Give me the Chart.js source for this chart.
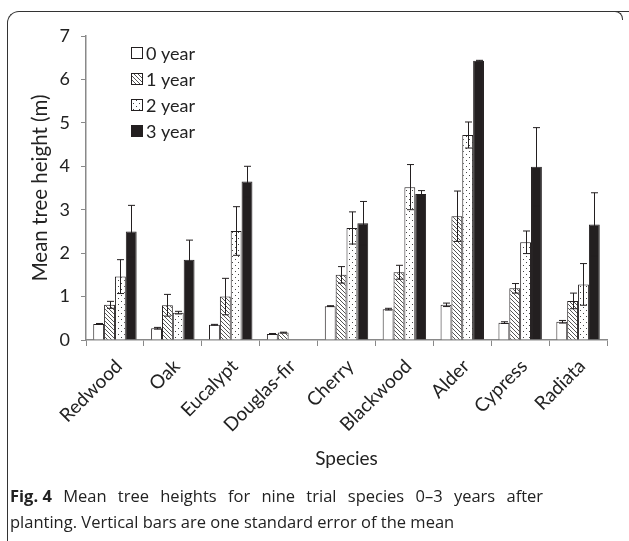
<!DOCTYPE html>
<html>
<head>
<meta charset="utf-8">
<script src="https://cdn.jsdelivr.net/npm/chart.js@4.4.1/dist/chart.umd.min.js"></script>
<style>
  html, body { margin: 0; padding: 0; background: #fff; }
  #wrap { position: relative; width: 629px; height: 541px; overflow: hidden; }
  #chart { position: absolute; left: 0; top: 0; }
  .frame { position: absolute; left: 7px; top: 11px; width: 640px; height: 540px;
    border-top: 1.5px solid #333; border-left: 1.5px solid #333; border-top-left-radius: 12px; }
  .frame-r { position: absolute; left: 612px; top: 11px; width: 10px; height: 8px;
    border-top: 1.5px solid #333; border-right: 1.5px solid #333; border-top-right-radius: 8px; }
  .caption { position: absolute; left: 10px; top: 483px; font-family: 'Open Sans', sans-serif;
    font-size: 16.5px; line-height: 26px; color: #222; }
  .caption .l1 { word-spacing: 7px; }
  .caption b { word-spacing: 0; }
</style>
</head>
<body>
<div id="wrap">
  <canvas id="chart" width="629" height="480"></canvas>
  <div class="frame"></div>
  <div class="frame-r"></div>
  <div class="caption"><span class="l1"><b>Fig. 4</b> Mean tree heights for nine trial species 0–3 years after</span><br>planting. Vertical bars are one standard error of the mean</div>
</div>
<script>
// ===== DATA =====
const species = ['Redwood', 'Oak', 'Eucalypt', 'Douglas-fir', 'Cherry', 'Blackwood', 'Alder', 'Cypress', 'Radiata'];
const seriesLabels = ['0 year', '1 year', '2 year', '3 year'];

const year0 = [0.37, 0.27, 0.35, 0.14, 0.78, 0.71, 0.81, 0.40, 0.42];
const year1 = [0.81, 0.80, 1.00, 0.17, 1.50, 1.56, 2.85, 1.19, 0.90];
const year2 = [1.46, 0.63, 2.51, null, 2.58, 3.52, 4.72, 2.25, 1.28];
const year3 = [2.50, 1.85, 3.65, null, 2.69, 3.36, 6.43, 3.99, 2.66];

const err0 = [0.01, 0.02, 0.01, 0.01, 0.01, 0.02, 0.04, 0.02, 0.03];
const err1 = [0.08, 0.25, 0.42, 0.01, 0.19, 0.16, 0.58, 0.11, 0.18];
const err2 = [0.39, 0.03, 0.56, null, 0.37, 0.52, 0.30, 0.26, 0.48];
const err3 = [0.60, 0.45, 0.35, null, 0.50, 0.08, 0.01, 0.90, 0.73];

const yTicks = [0, 1, 2, 3, 4, 5, 6, 7];

// ===== PATTERNS =====
const ink = '#231f20';

function hatchPattern() {
  const c = document.createElement('canvas');
  c.width = 4; c.height = 4;
  const g = c.getContext('2d');
  g.fillStyle = '#fff';
  g.fillRect(0, 0, 4, 4);
  g.strokeStyle = '#555';
  g.lineWidth = 1;
  g.beginPath();
  g.moveTo(-1, -1); g.lineTo(5, 5);
  g.moveTo(-1, 3); g.lineTo(1, 5);
  g.moveTo(3, -1); g.lineTo(5, 1);
  g.stroke();
  return c.getContext('2d').createPattern(c, 'repeat');
}

function dotPattern() {
  const c = document.createElement('canvas');
  c.width = 6; c.height = 6;
  const g = c.getContext('2d');
  g.fillStyle = '#fff';
  g.fillRect(0, 0, 6, 6);
  g.fillStyle = '#444';
  g.fillRect(1, 1, 1, 1);
  g.fillRect(4, 4, 1, 1);
  return c.getContext('2d').createPattern(c, 'repeat');
}

const fills = ['#ffffff', hatchPattern(), dotPattern(), ink];
const errors = [err0, err1, err2, err3];

// ===== PLUGINS =====
const errorBars = {
  id: 'errorBars',
  afterDatasetsDraw(chart) {
    const ctx = chart.ctx;
    const y = chart.scales.y;
    ctx.save();
    ctx.strokeStyle = ink;
    ctx.lineWidth = 1;
    chart.data.datasets.forEach((ds, d) => {
      const meta = chart.getDatasetMeta(d);
      meta.data.forEach((bar, i) => {
        const v = ds.data[i];
        const e = errors[d][i];
        if (v == null || e == null) return;
        const x = Math.round(bar.x) + 0.5;
        const top = y.getPixelForValue(v + e);
        const bot = y.getPixelForValue(v - e);
        ctx.beginPath();
        ctx.moveTo(x, top); ctx.lineTo(x, bot);
        ctx.moveTo(x - 3.5, top); ctx.lineTo(x + 3.5, top);
        ctx.moveTo(x - 3.5, bot); ctx.lineTo(x + 3.5, bot);
        ctx.stroke();
      });
    });
    ctx.restore();
  }
};

const insideLegend = {
  id: 'insideLegend',
  afterDraw(chart) {
    const ctx = chart.ctx;
    ctx.save();
    ctx.font = '18px Lato, sans-serif';
    ctx.textBaseline = 'middle';
    chart.data.datasets.forEach((ds, d) => {
      const bx = 131, by = 47 + d * 26;
      ctx.fillStyle = ds.backgroundColor;
      ctx.fillRect(bx, by, 12, 12);
      ctx.strokeStyle = ink;
      ctx.lineWidth = 1;
      ctx.strokeRect(bx + 0.5, by + 0.5, 11, 11);
      ctx.fillStyle = '#222';
      ctx.fillText(ds.label, bx + 15, by + 7);
    });
    ctx.restore();
  }
};

// ===== CHART =====
new Chart(document.getElementById('chart'), {
  type: 'bar',
  data: {
    labels: species,
    datasets: [year0, year1, year2, year3].map((data, d) => ({
      label: seriesLabels[d],
      data,
      backgroundColor: fills[d],
      borderColor: ink,
      borderWidth: 1,
      borderSkipped: 'bottom',
      categoryPercentage: 0.75,
      barPercentage: 1.0
    }))
  },
  options: {
    responsive: false,
    animation: false,
    layout: { padding: { left: 28, right: 22, top: 36, bottom: 10 } },
    plugins: { legend: { display: false }, tooltip: { enabled: false } },
    scales: {
      x: {
        offset: true,
        grid: { offset: true, drawOnChartArea: false, drawTicks: true, tickLength: 6, color: '#898989' },
        border: { display: true, color: '#898989', width: 1.5 },
        ticks: { color: '#222', font: { family: 'Lato', size: 19 }, minRotation: 45, maxRotation: 45, padding: 9, labelOffset: 4 },
        title: { display: true, text: 'Species', color: '#222', font: { family: 'Lato', size: 19 }, padding: { top: 4, bottom: 0 } },
        afterFit(scale) { scale.height = 130; }
      },
      y: {
        min: 0,
        max: 7,
        afterBuildTicks(scale) { scale.ticks = yTicks.map(v => ({ value: v })); },
        grid: { drawOnChartArea: false, drawTicks: true, tickLength: 5, color: '#898989' },
        border: { display: true, color: '#898989', width: 1.5 },
        ticks: { color: '#222', font: { family: 'Lato', size: 18 }, padding: 11 },
        title: { display: true, text: 'Mean tree height (m)', color: '#222', font: { family: 'Lato', size: 20.5 }, padding: { top: 0, bottom: 0 } },
        afterFit(scale) { scale.width = 58; }
      }
    }
  },
  plugins: [errorBars, insideLegend]
});
</script>
</body>
</html>
